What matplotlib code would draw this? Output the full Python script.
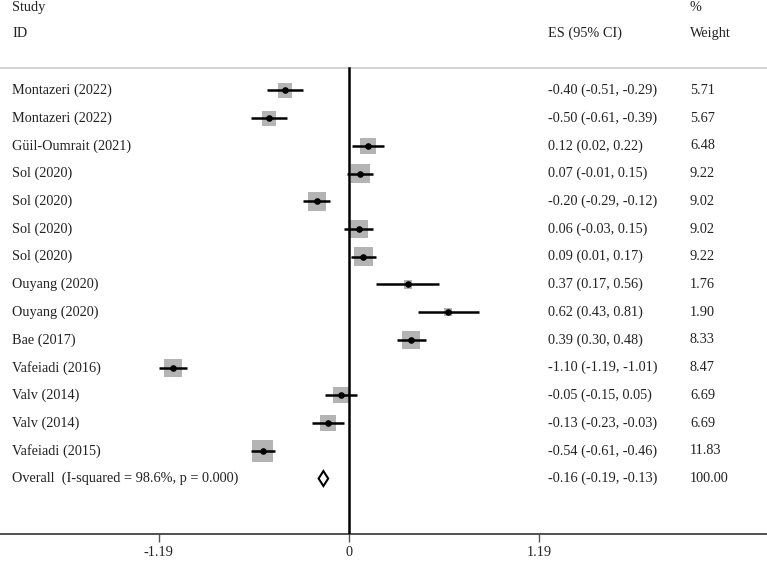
import numpy as np
import matplotlib
matplotlib.use("Agg")
import matplotlib.pyplot as plt
from matplotlib.patches import Polygon

studies = ["Montazeri (2022)", "Montazeri (2022)", "Güil-Oumrait (2021)", "Sol (2020)",
           "Sol (2020)", "Sol (2020)", "Sol (2020)", "Ouyang (2020)", "Ouyang (2020)",
           "Bae (2017)", "Vafeiadi (2016)", "Valv (2014)", "Valv (2014)", "Vafeiadi (2015)"]
es = [-0.40, -0.50, 0.12, 0.07, -0.20, 0.06, 0.09, 0.37, 0.62, 0.39, -1.10, -0.05, -0.13, -0.54]
lo = [-0.51, -0.61, 0.02, -0.01, -0.29, -0.03, 0.01, 0.17, 0.43, 0.30, -1.19, -0.15, -0.23, -0.61]
hi = [-0.29, -0.39, 0.22, 0.15, -0.12, 0.15, 0.17, 0.56, 0.81, 0.48, -1.01, 0.05, -0.03, -0.46]
weights = [5.71, 5.67, 6.48, 9.22, 9.02, 9.02, 9.22, 1.76, 1.90, 8.33, 8.47, 6.69, 6.69, 11.83]

overall_label = "Overall  (I-squared = 98.6%, p = 0.000)"
overall_es, overall_lo, overall_hi = -0.16, -0.19, -0.13
overall_w = "100.00"
xticks = [-1.19, 0, 1.19]

plt.rcParams['font.family'] = ['Liberation Serif', 'DejaVu Serif']
fs = 10.3
tc = "#222222"

fig = plt.figure(figsize=(7.67, 5.62), dpi=100)
ax = fig.add_axes([0, 28 / 562, 1, 1 - 28 / 562])
ax.set_xlim(-349 / 160, 418 / 160)
ax.set_ylim(16.0, -3.26)

n = len(studies)
rows = np.arange(n)
x_lab, x_es, x_w = -2.106, 1.244, 2.131

# header
ax.text(x_lab, -3.0, "Study", fontsize=fs, color=tc, va="center")
ax.text(x_lab, -2.05, "ID", fontsize=fs, color=tc, va="center")
ax.text(x_es, -2.05, "ES (95% CI)", fontsize=fs, color=tc, va="center")
ax.text(x_w, -3.0, "%", fontsize=fs, color=tc, va="center")
ax.text(x_w, -2.05, "Weight", fontsize=fs, color=tc, va="center")
ax.axhline(-0.79, color="#cccccc", lw=1.2)

# null line
ax.plot([0, 0], [-0.79, 16.0], color="black", lw=1.8, zorder=3)

# study boxes and CIs
ax.scatter(es, rows, s=np.array(weights) * 20, marker="s", color="#b4b4b4",
           edgecolors="none", zorder=2)
ax.hlines(rows, lo, hi, color="black", lw=1.8, zorder=4)
ax.scatter(es, rows, s=14, color="black", zorder=5)

for i in range(n):
    ax.text(x_lab, rows[i], studies[i], fontsize=fs, color=tc, va="center")
    ax.text(x_es, rows[i], f"{es[i]:.2f} ({lo[i]:.2f}, {hi[i]:.2f})",
            fontsize=fs, color=tc, va="center")
    ax.text(x_w, rows[i], f"{weights[i]:.2f}", fontsize=fs, color=tc, va="center")

# overall diamond
yo = n
ax.add_patch(Polygon([[overall_lo, yo], [overall_es, yo - 0.27], [overall_hi, yo],
                      [overall_es, yo + 0.27]], closed=True, fill=False,
                     edgecolor="black", lw=1.5, zorder=4))
ax.text(x_lab, yo, overall_label, fontsize=fs, color=tc, va="center")
ax.text(x_es, yo, f"{overall_es:.2f} ({overall_lo:.2f}, {overall_hi:.2f})",
        fontsize=fs, color=tc, va="center")
ax.text(x_w, yo, overall_w, fontsize=fs, color=tc, va="center")

# axis
for side in ["left", "right", "top"]:
    ax.spines[side].set_visible(False)
ax.spines["bottom"].set_color("#333333")
ax.spines["bottom"].set_linewidth(1.2)
ax.set_yticks([])
ax.set_xticks(xticks)
ax.set_xticklabels([f"{t:g}" for t in xticks])
ax.tick_params(axis="x", length=6, width=1, color="#555555", labelsize=fs,
               labelcolor=tc, pad=3)

fig.savefig("out.png", dpi=100)
